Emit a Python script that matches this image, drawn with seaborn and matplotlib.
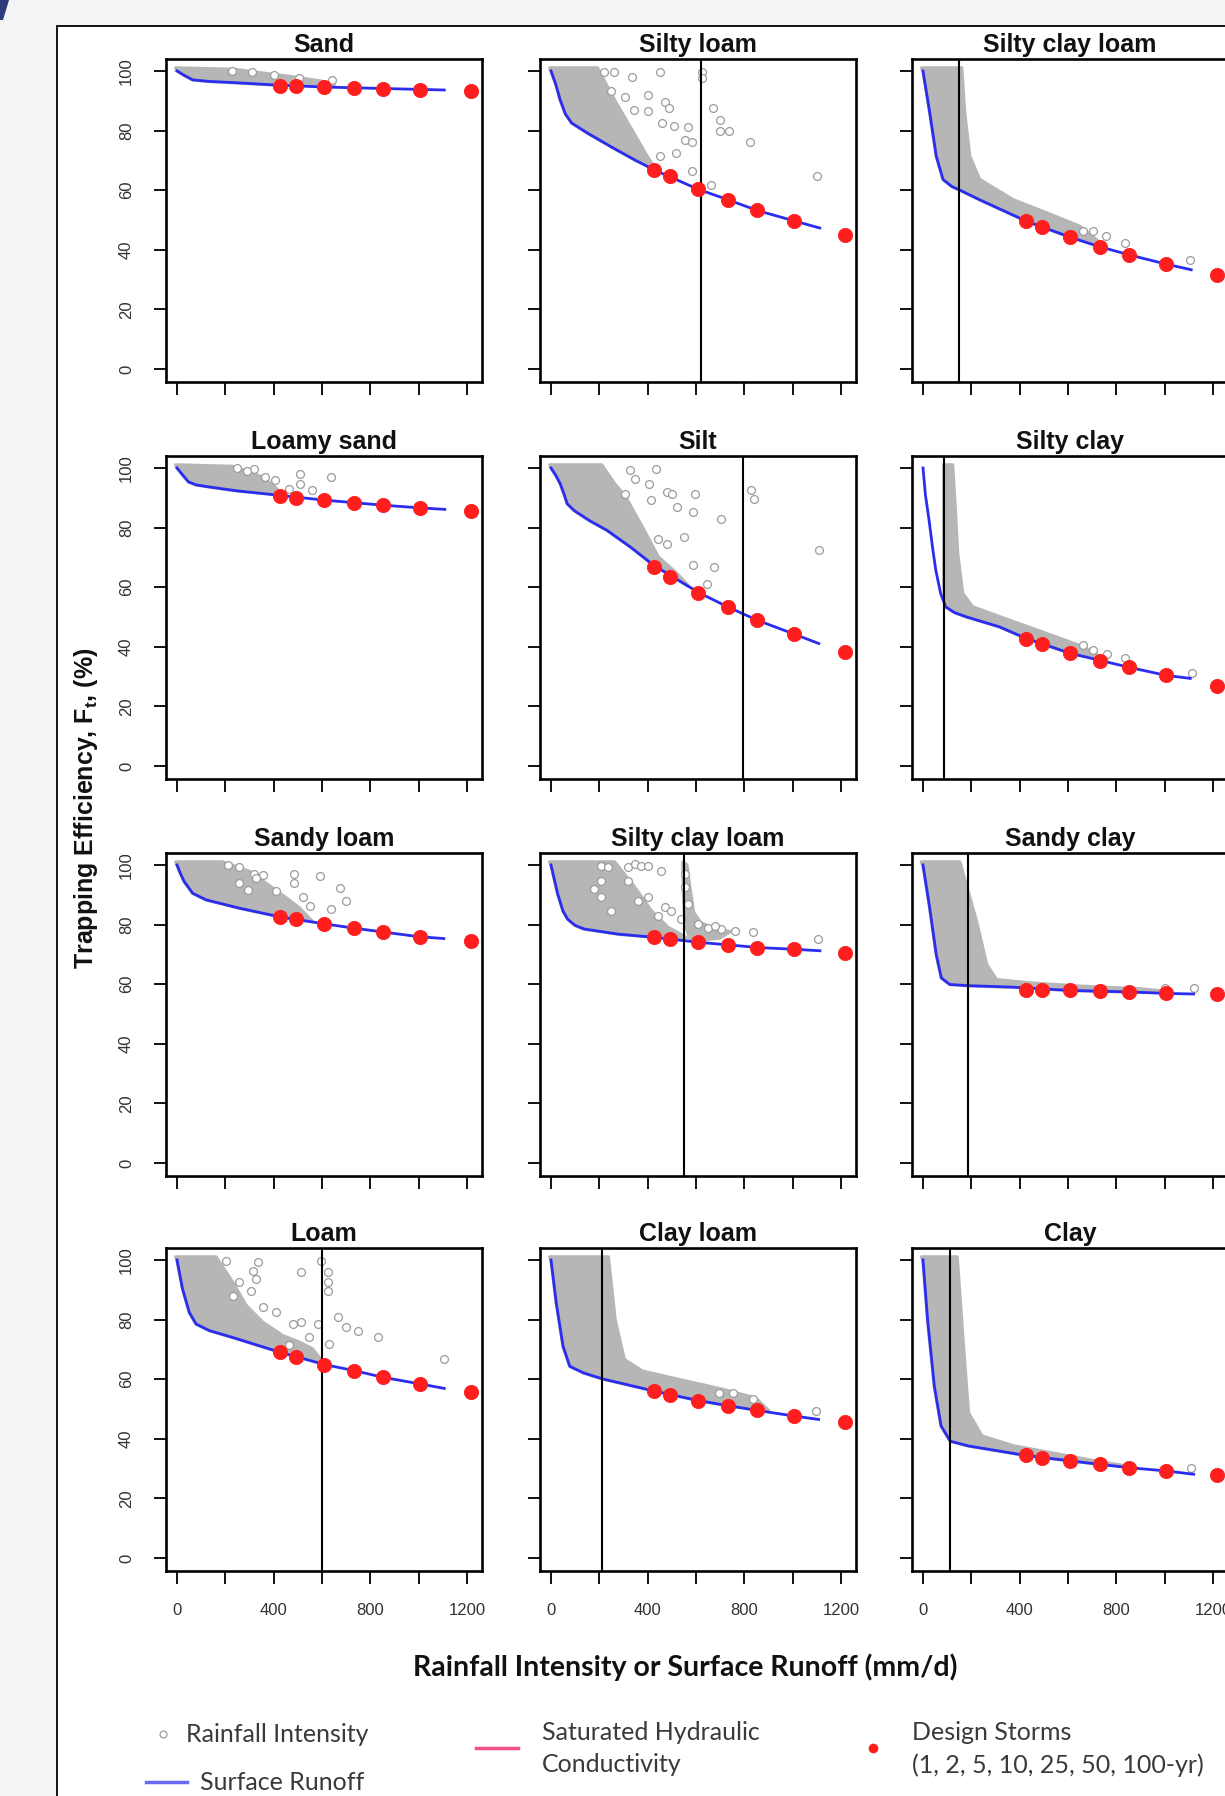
import numpy as np
import pandas as pd
import matplotlib
matplotlib.use("Agg")
import matplotlib.pyplot as plt
import seaborn as sns
from matplotlib.patches import Rectangle, Polygon
from matplotlib.lines import Line2D

# ---------------------------------------------------------------- data
titles = ["Sand", "Silty loam", "Silty clay loam",
          "Loamy sand", "Silt", "Silty clay",
          "Sandy loam", "Silty clay loam", "Sandy clay",
          "Loam", "Clay loam", "Clay"]

storm_x = [427, 494, 609, 732, 853, 1006, 1218]

x_ticks = [0, 200, 400, 600, 800, 1000, 1200]
x_tick_labels = ["0", "", "400", "", "800", "", "1200"]
y_ticks = [0, 20, 40, 60, 80, 100]
y_tick_labels = ["0", "20", "40", "60", "80", "100"]

# --- Sand
sand_storm_y = [95.0, 94.9, 94.5, 94.2, 94.1, 93.6, 93.3]
sand_run_x = [0, 30, 65, 130, 230, 427, 609, 853, 1106]
sand_run_y = [100, 98.5, 97.0, 96.5, 96.1, 95.2, 94.6, 94.1, 93.6]
sand_cloud_x = [-5, 240, 330, 480, 600, 650, 427, 230, 130, 65, 30, 0]
sand_cloud_y = [101, 100.5, 99.5, 98, 96.5, 95.4, 95.2, 96.1, 96.5, 97, 98.5, 100]
sand_pts_x = [229, 311, 400, 506, 643]
sand_pts_y = [100, 99.7, 98.8, 97.5, 97.0]

# --- Silty loam
sil_storm_y = [66.8, 64.6, 60.3, 56.8, 53.2, 49.7, 45.0]
sil_run_x = [0, 20, 38, 60, 86, 150, 250, 350, 427, 609, 732, 853, 1006, 1112]
sil_run_y = [100, 95.5, 90.3, 85.5, 82.5, 79.2, 74.5, 70.0, 66.8, 60.3, 56.8, 53.2, 49.7, 47.3]
sil_cloud_x = [-5, 192, 264, 336, 393, 430, 350, 250, 150, 86, 60, 38, 20, 0]
sil_cloud_y = [101, 101, 90, 80, 72, 67.2, 70, 74.5, 79.2, 82.5, 85.5, 90.3, 95.5, 100]
sil_pts_x = [220, 259, 336, 451, 623, 623, 249, 307, 403, 470, 489, 345, 403, 460,
             508, 566, 556, 585, 671, 700, 738, 700, 825, 518, 585, 662, 1102, 451]
sil_pts_y = [99.8, 99.8, 98.1, 99.8, 99.8, 97.5, 93.1, 91.4, 92.0, 89.7, 87.5, 86.9, 86.4, 82.5,
             81.6, 81.3, 76.9, 76.3, 87.5, 83.6, 79.7, 79.7, 76.0, 72.4, 66.3, 61.8, 64.6, 71.3]
sil_ksat = 620

# --- Silty clay loam (row 1)
scl1_storm_y = [49.6, 47.6, 44.2, 41.0, 38.3, 35.2, 31.4]
scl1_run_x = [0, 28, 55, 83, 120, 148, 234, 428, 610, 732, 853, 1006, 1110]
scl1_run_y = [100, 86, 71.4, 63.6, 61.2, 60.2, 56.8, 49.6, 44.2, 41.0, 38.3, 35.2, 33.3]
scl1_cloud_x = [-6, 160, 172, 193, 234, 372, 510, 648, 760, 610, 428, 234, 148, 120, 83, 55, 28, 0]
scl1_cloud_y = [101, 101, 86, 71.4, 63.6, 56.8, 52.4, 47.9, 40.6, 44.2, 49.6, 56.8, 60.2, 61.2, 63.6, 71.4, 86, 100]
scl1_pts_x = [662, 703, 759, 834, 1103]
scl1_pts_y = [46.2, 46.2, 44.5, 42.3, 36.7]
scl1_ksat = 148

# --- Loamy sand
ls_storm_y = [90.5, 89.9, 89.2, 88.3, 87.5, 86.6, 85.6]
ls_run_x = [0, 25, 48, 80, 135, 250, 424, 609, 853, 1006, 1108]
ls_run_y = [100, 97.5, 95.3, 94.3, 93.6, 92.3, 90.8, 89.2, 87.5, 86.6, 86.1]
ls_cloud_x = [-5, 230, 300, 350, 400, 435, 250, 135, 80, 48, 25, 0]
ls_cloud_y = [101, 100.5, 98.5, 97, 94, 91, 92.3, 93.6, 94.3, 95.3, 97.5, 100]
ls_pts_x = [318, 366, 405, 511, 511, 636, 559, 463, 250, 290]
ls_pts_y = [99.8, 97.0, 95.9, 98.1, 94.7, 97.0, 92.5, 93.0, 100, 99]

# --- Silt
si_storm_y = [66.6, 63.5, 58.1, 53.2, 48.9, 44.2, 38.3]
si_run_x = [0, 20, 38.5, 55, 67, 96, 160, 231, 330, 424, 613, 736, 854, 1008, 1108]
si_run_y = [100, 97.5, 94.7, 91, 88, 85.7, 82.3, 79.1, 73.4, 67.4, 58.1, 53.2, 48.9, 44.2, 41.1]
si_cloud_x = [-5, 210, 260, 308, 385, 443, 520, 570, 424, 330, 231, 160, 96, 67, 55, 38.5, 20, 0]
si_cloud_y = [101, 101, 95, 90.3, 79.1, 70.2, 64.6, 60.3, 67.4, 73.4, 79.1, 82.3, 85.7, 88, 91, 94.7, 97.5, 100]
si_pts_x = [434, 328, 347, 405, 482, 501, 597, 414, 520, 588, 703, 549, 482, 588, 674, 645,
            829, 838, 1108, 443, 308]
si_pts_y = [99.8, 99.2, 96.4, 94.7, 92.0, 91.4, 91.4, 89.2, 86.9, 85.3, 83.0, 76.9, 74.6, 67.4, 66.8, 61.2,
            92.5, 89.7, 72.4, 76.3, 91.4]
si_ksat = 796

# --- Silty clay
sc_storm_y = [42.5, 40.9, 37.8, 35.4, 33.1, 30.4, 27.0]
sc_run_x = [0, 10, 25, 40, 53, 73, 94, 130, 177, 316, 427, 610, 734, 854, 1006, 1106]
sc_run_y = [100, 91, 82.5, 73, 65.7, 57.9, 53.4, 51.5, 50.1, 46.7, 42.8, 37.8, 35.4, 33.1, 30.4, 29.4]
sc_cloud_x = [86, 122, 132, 143, 164, 205, 316, 454, 662, 760, 610, 427, 316, 177, 130, 94, 86]
sc_cloud_y = [101, 101, 88, 71.3, 57.9, 53.4, 50.1, 46.1, 40, 35.5, 37.8, 42.8, 46.7, 50.1, 51.5, 53.4, 60]
sc_pts_x = [660, 704, 760, 836, 1113]
sc_pts_y = [40.5, 38.9, 37.5, 36.1, 31.1]
sc_ksat = 85

# --- Sandy loam
sl_storm_y = [82.5, 81.8, 80.3, 78.8, 77.5, 75.9, 74.6]
sl_run_x = [0, 15, 30, 65, 120, 258, 431, 604, 731, 852, 1004, 1104]
sl_run_y = [100, 97, 94.4, 90.5, 88.3, 85.5, 82.5, 80.3, 78.8, 77.5, 75.9, 75.3]
sl_cloud_x = [-5, 189, 300, 396, 452, 507, 560, 431, 258, 120, 65, 30, 15, 0]
sl_cloud_y = [101, 101, 97.8, 92.2, 88.9, 85.5, 81, 82.5, 85.5, 88.3, 90.5, 94.4, 97, 100]
sl_pts_x = [210, 258, 320, 356, 483, 483, 590, 410, 521, 673, 701, 639, 549, 258, 293, 327]
sl_pts_y = [99.9, 99.3, 97.1, 96.7, 97.1, 93.8, 96.2, 91.1, 89.4, 92.2, 88.0, 85.3, 86.1, 93.9, 91.6, 95.5]

# --- Silty clay loam (row 3)
scl2_storm_y = [75.7, 75.1, 74.0, 73.2, 72.3, 71.7, 70.6]
scl2_run_x = [0, 28, 50, 69, 100, 138, 277, 429, 615, 733, 854, 1009, 1113]
scl2_run_y = [100, 90.2, 84.5, 81.8, 79.7, 78.5, 76.8, 75.7, 74.0, 73.2, 72.3, 71.7, 71.2]
scl2_cloud_x = [-5, 263, 346, 415, 484, 530, 560, 429, 277, 138, 100, 69, 50, 28, 0]
scl2_cloud_y = [101, 101, 92.5, 84.6, 79, 77, 75.5, 75.7, 76.8, 78.5, 79.7, 81.8, 84.5, 90.2, 100]
scl2_cloud2_x = [546, 562, 575, 590, 620, 680, 740, 700, 620, 575, 555, 548]
scl2_cloud2_y = [101, 100, 92, 84, 80.5, 78.6, 77.6, 75.5, 74.8, 75.2, 80, 90]
scl2_pts_x = [207, 235, 318, 346, 373, 401, 456, 207, 180, 207, 318, 249, 360, 401, 470, 498,
              442, 539, 567, 553, 553, 608, 650, 705, 760, 836, 1106, 677]
scl2_pts_y = [99.8, 99.2, 99.2, 100.3, 99.8, 99.8, 98.1, 94.7, 91.9, 89.1, 94.7, 84.6, 88.0, 89.1, 85.8, 84.6,
              83.0, 81.8, 86.9, 92.5, 97.0, 80.2, 79.0, 78.5, 77.9, 77.4, 75.1, 79.6]
scl2_ksat = 550

# --- Sandy clay
sdc_storm_y = [58.2, 58.2, 57.9, 57.6, 57.4, 56.9, 56.7]
sdc_run_x = [0, 28, 55, 76, 111, 187, 373, 608, 850, 1006, 1120]
sdc_run_y = [100, 85.5, 69.9, 62.1, 59.9, 59.5, 59.0, 57.9, 57.4, 56.9, 56.7]
sdc_cloud_x = [-7, 152, 221, 263, 304, 442, 650, 900, 1000, 850, 608, 373, 187, 111, 76, 55, 28, 0]
sdc_cloud_y = [101, 101, 81.1, 66.6, 61.5, 60.4, 59.3, 58.4, 57.6, 57.4, 57.9, 59.0, 59.5, 59.9, 62.1, 69.9, 85.5, 100]
sdc_pts_x = [1000, 1120]
sdc_pts_y = [58.6, 58.8]
sdc_ksat = 187

# --- Loam
lo_storm_y = [69.0, 67.6, 64.9, 62.9, 60.6, 58.4, 55.7]
lo_run_x = [0, 23, 51, 79, 134, 230, 428, 610, 731, 854, 1006, 1106]
lo_run_y = [100, 90.3, 82.4, 78.5, 76.3, 74.0, 69.0, 64.9, 62.9, 60.6, 58.4, 56.9]
lo_cloud_x = [-5, 161, 230, 286, 354, 437, 506, 561, 600, 428, 230, 134, 79, 51, 23, 0]
lo_cloud_y = [101, 101, 92.5, 84.7, 79.1, 74.6, 72.4, 70.1, 66, 69.0, 74.0, 76.3, 78.5, 82.4, 90.3, 100]
lo_pts_x = [203, 334, 313, 327, 306, 354, 410, 479, 513, 513, 596, 623, 623, 623, 582, 665,
            699, 747, 830, 1106, 548, 630, 230, 258, 465]
lo_pts_y = [99.8, 99.2, 96.4, 93.6, 89.7, 84.1, 82.4, 78.5, 79.1, 95.9, 99.8, 95.9, 92.5, 89.7, 78.5, 80.8,
            77.4, 76.3, 74.0, 66.8, 74.0, 71.8, 88.0, 92.5, 71.3]
lo_ksat = 600

# --- Clay loam
cl_storm_y = [56.0, 54.8, 52.8, 51.1, 49.5, 47.6, 45.6]
cl_run_x = [0, 22, 50, 78, 135, 213, 428, 611, 733, 854, 1009, 1107]
cl_run_y = [100, 85.5, 71, 64.3, 62.1, 60.1, 56.0, 52.8, 51.1, 49.5, 47.6, 46.5]
cl_cloud_x = [-5, 237, 265, 303, 378, 527, 714, 845, 900, 733, 611, 428, 213, 135, 78, 50, 22, 0]
cl_cloud_y = [101, 101, 79.9, 66.6, 62.7, 59.9, 56.5, 53.7, 49.5, 51.1, 52.8, 56.0, 60.1, 62.1, 64.3, 71, 85.5, 100]
cl_pts_x = [695, 751, 835, 1097]
cl_pts_y = [55.4, 55.4, 53.2, 49.3]
cl_ksat = 213

# --- Clay
c_storm_y = [34.4, 33.7, 32.6, 31.4, 30.3, 29.2, 27.8]
c_run_x = [0, 19, 47, 75, 113, 188, 426, 610, 735, 854, 1008, 1120]
c_run_y = [100, 80, 57.6, 44.3, 39.2, 37.6, 34.4, 32.6, 31.4, 30.3, 29.2, 28.1]
c_cloud_x = [-6, 141, 169, 188, 244, 375, 563, 750, 860, 735, 610, 426, 188, 113, 75, 47, 19, 0]
c_cloud_y = [101, 101, 68.8, 48.7, 40.9, 37.6, 34.8, 32, 30.6, 31.4, 32.6, 34.4, 37.6, 39.2, 44.3, 57.6, 80, 100]
c_pts_x = [1107]
c_pts_y = [30.3]
c_ksat = 113

panels = [
    (sand_storm_y, sand_run_x, sand_run_y, [(sand_cloud_x, sand_cloud_y)], sand_pts_x, sand_pts_y, None),
    (sil_storm_y, sil_run_x, sil_run_y, [(sil_cloud_x, sil_cloud_y)], sil_pts_x, sil_pts_y, sil_ksat),
    (scl1_storm_y, scl1_run_x, scl1_run_y, [(scl1_cloud_x, scl1_cloud_y)], scl1_pts_x, scl1_pts_y, scl1_ksat),
    (ls_storm_y, ls_run_x, ls_run_y, [(ls_cloud_x, ls_cloud_y)], ls_pts_x, ls_pts_y, None),
    (si_storm_y, si_run_x, si_run_y, [(si_cloud_x, si_cloud_y)], si_pts_x, si_pts_y, si_ksat),
    (sc_storm_y, sc_run_x, sc_run_y, [(sc_cloud_x, sc_cloud_y)], sc_pts_x, sc_pts_y, sc_ksat),
    (sl_storm_y, sl_run_x, sl_run_y, [(sl_cloud_x, sl_cloud_y)], sl_pts_x, sl_pts_y, None),
    (scl2_storm_y, scl2_run_x, scl2_run_y, [(scl2_cloud_x, scl2_cloud_y), (scl2_cloud2_x, scl2_cloud2_y)],
     scl2_pts_x, scl2_pts_y, scl2_ksat),
    (sdc_storm_y, sdc_run_x, sdc_run_y, [(sdc_cloud_x, sdc_cloud_y)], sdc_pts_x, sdc_pts_y, sdc_ksat),
    (lo_storm_y, lo_run_x, lo_run_y, [(lo_cloud_x, lo_cloud_y)], lo_pts_x, lo_pts_y, lo_ksat),
    (cl_storm_y, cl_run_x, cl_run_y, [(cl_cloud_x, cl_cloud_y)], cl_pts_x, cl_pts_y, cl_ksat),
    (c_storm_y, c_run_x, c_run_y, [(c_cloud_x, c_cloud_y)], c_pts_x, c_pts_y, c_ksat),
]

# ---------------------------------------------------------------- style
plt.rcParams["font.family"] = ["Liberation Sans", "DejaVu Sans"]
plt.rcParams["mathtext.fontset"] = "custom"
plt.rcParams["mathtext.rm"] = "Liberation Sans"
plt.rcParams["mathtext.bf"] = "Liberation Sans:bold"
plt.rcParams["mathtext.it"] = "Liberation Sans:italic"

W_PX, H_PX = 1225, 1796
BG = "#f3f4f5"
CLOUD = "#b6b6b6"
CIRCLE = "#9c9c9c"
BLUE = "#2a2cf0"
RED = "#ff1e1e"
PINK = "#f0508a"
LEG_FONT = ["Lato", "DejaVu Sans"]


def fx(px):
    return px / W_PX


def fy(py):
    return 1 - py / H_PX


fig = plt.figure(figsize=(W_PX / 100, H_PX / 100), dpi=100)
fig.patch.set_facecolor(BG)

# white inner panel with black frame
fig.add_artist(Rectangle((fx(57), -0.01), 1.2, fy(26) + 0.01, transform=fig.transFigure,
                         facecolor="white", edgecolor="black", linewidth=1.3, zorder=0))
# small dark-blue corner decoration
fig.add_artist(Polygon([(fx(0), fy(0)), (fx(9), fy(0)), (fx(3), fy(20)), (fx(0), fy(20))],
                       closed=True, transform=fig.transFigure, facecolor="#2c3b7c",
                       edgecolor="none", zorder=0))

col_left = [166, 540, 912]
row_top = [59, 456, 853, 1248]
AX_W, AX_H = 316, 323

for i, (title, panel) in enumerate(zip(titles, panels)):
    storm_y, run_x, run_y, clouds, pts_x, pts_y, ksat = panel
    r, c = divmod(i, 3)
    ax = fig.add_axes([fx(col_left[c]), fy(row_top[r] + AX_H), AX_W / W_PX, AX_H / H_PX])
    ax.set_facecolor("white")
    ax.set_zorder(2)

    for cx, cy in clouds:
        ax.fill(cx, cy, facecolor=CLOUD, edgecolor=CLOUD, linewidth=2.5,
                joinstyle="round", zorder=1)
    sns.scatterplot(x=pts_x, y=pts_y, ax=ax, marker="o", s=32, facecolor="white",
                    edgecolor=CIRCLE, linewidth=0.9, zorder=2, legend=False)
    sns.lineplot(x=run_x, y=run_y, ax=ax, color=BLUE, linewidth=2.0, sort=False,
                 estimator=None, zorder=3)
    if ksat is not None:
        ax.axvline(ksat, color="black", linewidth=1.5, zorder=4)
    sns.scatterplot(x=storm_x, y=storm_y, ax=ax, marker="o", s=105, color=RED,
                    edgecolor=RED, linewidth=0.6, zorder=5, legend=False)

    ax.set_xlim(-45.5, 1262)
    ax.set_ylim(-4.35, 104)
    ax.set_xticks(x_ticks)
    ax.set_yticks(y_ticks)
    if r == 3:
        ax.set_xticklabels(x_tick_labels)
    else:
        ax.set_xticklabels([])
    if c == 0:
        ax.set_yticklabels(y_tick_labels, rotation=90, va="center")
    else:
        ax.set_yticklabels([])
    ax.tick_params(axis="both", direction="out", length=9, width=1.4, color="#111111",
                   labelsize=12, labelcolor="#333333")
    ax.tick_params(axis="y", pad=14)
    ax.tick_params(axis="x", pad=14)
    for sp in ax.spines.values():
        sp.set_linewidth(1.9)
        sp.set_color("black")
    ax.set_xlabel("")
    ax.set_ylabel("")
    ax.set_title(title, fontsize=18, fontweight="bold", pad=5, color="#111111")

# axis titles
fig.text(fx(86), fy(808), "Trapping Efficiency, F$_{\\mathbf{t}}$, (%)", rotation=90,
         ha="center", va="center", fontsize=18, fontweight="bold", color="#111111")
fig.text(fx(685), fy(1667), "Rainfall Intensity or Surface Runoff (mm/d)", ha="center",
         va="center", fontsize=20.5, fontweight="bold", family=LEG_FONT, color="#111111")

# legend (manual, three blocks)
LEG_FS = 18
LEG_COL = "#3a3a3a"
fig.add_artist(Line2D([fx(163)], [fy(1734)], marker="o", markersize=5, markerfacecolor="white",
                      markeredgecolor=CIRCLE, markeredgewidth=0.9, linestyle="none",
                      transform=fig.transFigure))
fig.text(fx(186), fy(1734), "Rainfall Intensity", ha="left", va="center", fontsize=LEG_FS,
         family=LEG_FONT, color=LEG_COL)
fig.add_artist(Line2D([fx(146), fx(187)], [fy(1782), fy(1782)], color="#6a6af0", linewidth=2.5,
                      transform=fig.transFigure))
fig.text(fx(200), fy(1782), "Surface Runoff", ha="left", va="center", fontsize=LEG_FS,
         family=LEG_FONT, color=LEG_COL)
fig.add_artist(Line2D([fx(476), fx(518)], [fy(1748), fy(1748)], color=PINK, linewidth=2.5,
                      transform=fig.transFigure))
fig.text(fx(542), fy(1732), "Saturated Hydraulic", ha="left", va="center", fontsize=LEG_FS,
         family=LEG_FONT, color=LEG_COL)
fig.text(fx(542), fy(1764), "Conductivity", ha="left", va="center", fontsize=LEG_FS,
         family=LEG_FONT, color=LEG_COL)
fig.add_artist(Line2D([fx(873)], [fy(1748)], marker="o", markersize=6, color=RED,
                      linestyle="none", transform=fig.transFigure))
fig.text(fx(912), fy(1732), "Design Storms", ha="left", va="center", fontsize=LEG_FS,
         family=LEG_FONT, color=LEG_COL)
fig.text(fx(912), fy(1765), "(1, 2, 5, 10, 25, 50, 100-yr)", ha="left", va="center",
         fontsize=LEG_FS, family=LEG_FONT, color=LEG_COL)

fig.savefig("out.png", dpi=100, facecolor=BG)
